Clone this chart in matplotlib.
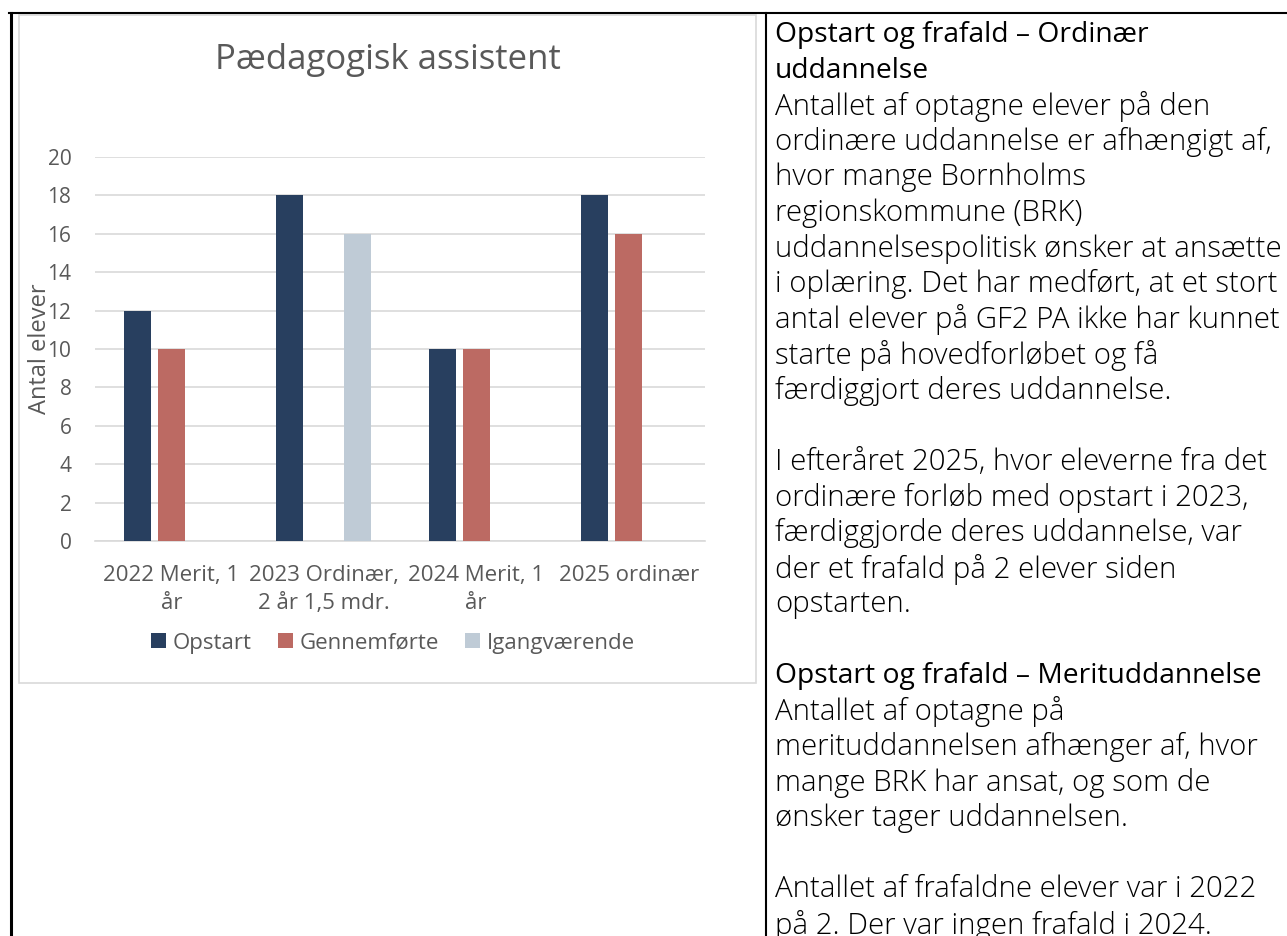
import matplotlib
matplotlib.use("Agg")
import matplotlib.pyplot as plt
import numpy as np
from matplotlib.lines import Line2D
from matplotlib.patches import Rectangle, Patch

W, H = 1287, 936
DPI = 100

# ---- data ----
categories = ["2022 Merit, 1\når", "2023 Ordinær,\n2 år 1,5 mdr.", "2024 Merit, 1\når", "2025 ordinær"]
series_names = ["Opstart", "Gennemførte", "Igangværende"]
opstart = [12, 18, 10, 18]
gennemforte = [10, 0, 10, 16]
igangvaerende = [0, 16, 0, 0]
series_colors = ["#283F5F", "#BC6A63", "#BFCBD6"]
yticks = [0, 2, 4, 6, 8, 10, 12, 14, 16, 18, 20]
chart_title = "Pædagogisk assistent"
y_label = "Antal elever"

text_lines = [
    ("Opstart og frafald – Ordinær", "h"),
    ("uddannelse", "h"),
    ("Antallet af optagne elever på den", "b"),
    ("ordinære uddannelse er afhængigt af,", "b"),
    ("hvor mange Bornholms", "b"),
    ("regionskommune (BRK)", "b"),
    ("uddannelsespolitisk ønsker at ansætte", "b"),
    ("i oplæring. Det har medført, at et stort", "b"),
    ("antal elever på GF2 PA ikke har kunnet", "b"),
    ("starte på hovedforløbet og få", "b"),
    ("færdiggjort deres uddannelse.", "b"),
    ("", "b"),
    ("I efteråret 2025, hvor eleverne fra det", "b"),
    ("ordinære forløb med opstart i 2023,", "b"),
    ("færdiggjorde deres uddannelse, var", "b"),
    ("der et frafald på 2 elever siden", "b"),
    ("opstarten.", "b"),
    ("", "b"),
    ("Opstart og frafald – Merituddannelse", "h"),
    ("Antallet af optagne på", "b"),
    ("merituddannelsen afhænger af, hvor", "b"),
    ("mange BRK har ansat, og som de", "b"),
    ("ønsker tager uddannelsen.", "b"),
    ("", "b"),
    ("Antallet af frafaldne elever var i 2022", "b"),
    ("på 2. Der var ingen frafald i 2024.", "b"),
]

plt.rcParams['font.family'] = ['Open Sans', 'DejaVu Sans']

fig = plt.figure(figsize=(W / DPI, H / DPI), dpi=DPI)
fig.patch.set_facecolor("white")

def fx(x):
    return x / W

def fy(y):
    return 1 - y / H

# ---- document frame lines ----
fig.add_artist(Line2D([fx(9), fx(W)], [fy(13), fy(13)], color="black", lw=1.5, transform=fig.transFigure))
fig.add_artist(Line2D([fx(10.5), fx(10.5)], [fy(13), fy(H)], color="black", lw=2.2, transform=fig.transFigure))
fig.add_artist(Line2D([fx(766), fx(766)], [fy(13), fy(H)], color="black", lw=1.5, transform=fig.transFigure))

# ---- chart frame ----
frame = Rectangle((fx(19), fy(683)), fx(756) - fx(19), fy(15) - fy(683),
                  facecolor="white", edgecolor="#D9D9D9", lw=1.2, transform=fig.transFigure, zorder=-5)
fig.add_artist(frame)

# ---- axes ----
ax = fig.add_axes([fx(95), fy(541), fx(705) - fx(95), fy(157) - fy(541)])
ax.set_zorder(2)
ax.set_facecolor("none")
x = np.arange(len(categories))
bw = 0.177
off = 0.223
for i, (vals, col, name) in enumerate(zip([opstart, gennemforte, igangvaerende], series_colors, series_names)):
    xs = x + (i - 1) * off
    v = np.array(vals, dtype=float)
    mask = v > 0
    ax.bar(xs[mask], v[mask], width=bw, color=col, zorder=3)

ax.set_xlim(-0.5, len(categories) - 0.5)
ax.set_ylim(0, 20)
ax.set_yticks(yticks)
ax.set_yticklabels([str(t) for t in yticks], fontsize=15, color="#595959")
ax.set_xticks(x)
ax.set_xticklabels(categories, fontsize=16, color="#595959", linespacing=1.45)
ax.tick_params(axis="both", length=0)
ax.tick_params(axis="y", pad=17)
ax.tick_params(axis="x", pad=17)
ax.grid(axis="y", color="#D9D9D9", lw=1.2, zorder=0)
for s in ["top", "right", "left"]:
    ax.spines[s].set_visible(False)
ax.spines["bottom"].set_color("#D9D9D9")
ax.spines["bottom"].set_linewidth(1.2)

fig.text(fx(40), fy(349), y_label, rotation=90, fontsize=17, color="#595959", ha="center", va="center", zorder=3)
fig.text(fx(388), fy(60), chart_title, fontsize=25, color="#595959", ha="center", va="center")

handles = [Patch(facecolor=c, edgecolor="none") for c in series_colors]
fig.legend(handles, series_names, loc="center", bbox_to_anchor=(fx(393), fy(643)), ncol=3, frameon=False,
           fontsize=16, labelcolor="#595959", handlelength=0.65, handleheight=0.65, handletextpad=0.3,
           columnspacing=1.2)

# ---- right text column ----
renderer = fig.canvas.get_renderer()

def fitted_size(s, target_px, weight="normal", base=17):
    t = fig.text(0, 0, s, fontsize=base, fontweight=weight)
    w = t.get_window_extent(renderer).width
    t.remove()
    return base * target_px / w

body_size = fitted_size("uddannelsespolitisk ønsker at ansætte", 507, "light")
head_size = fitted_size("Opstart og frafald – Merituddannelse", 487)

y0 = 35
dy = 35.6
for i, (t, kind) in enumerate(text_lines):
    if not t:
        continue
    if kind == "h":
        fig.text(fx(775), fy(y0 + i * dy), t, fontsize=head_size, color="black", ha="left", va="center")
    else:
        fig.text(fx(775), fy(y0 + i * dy), t, fontsize=body_size, color="black", ha="left", va="center",
                 fontweight="light")

fig.savefig("out.png", dpi=DPI, facecolor="white")
